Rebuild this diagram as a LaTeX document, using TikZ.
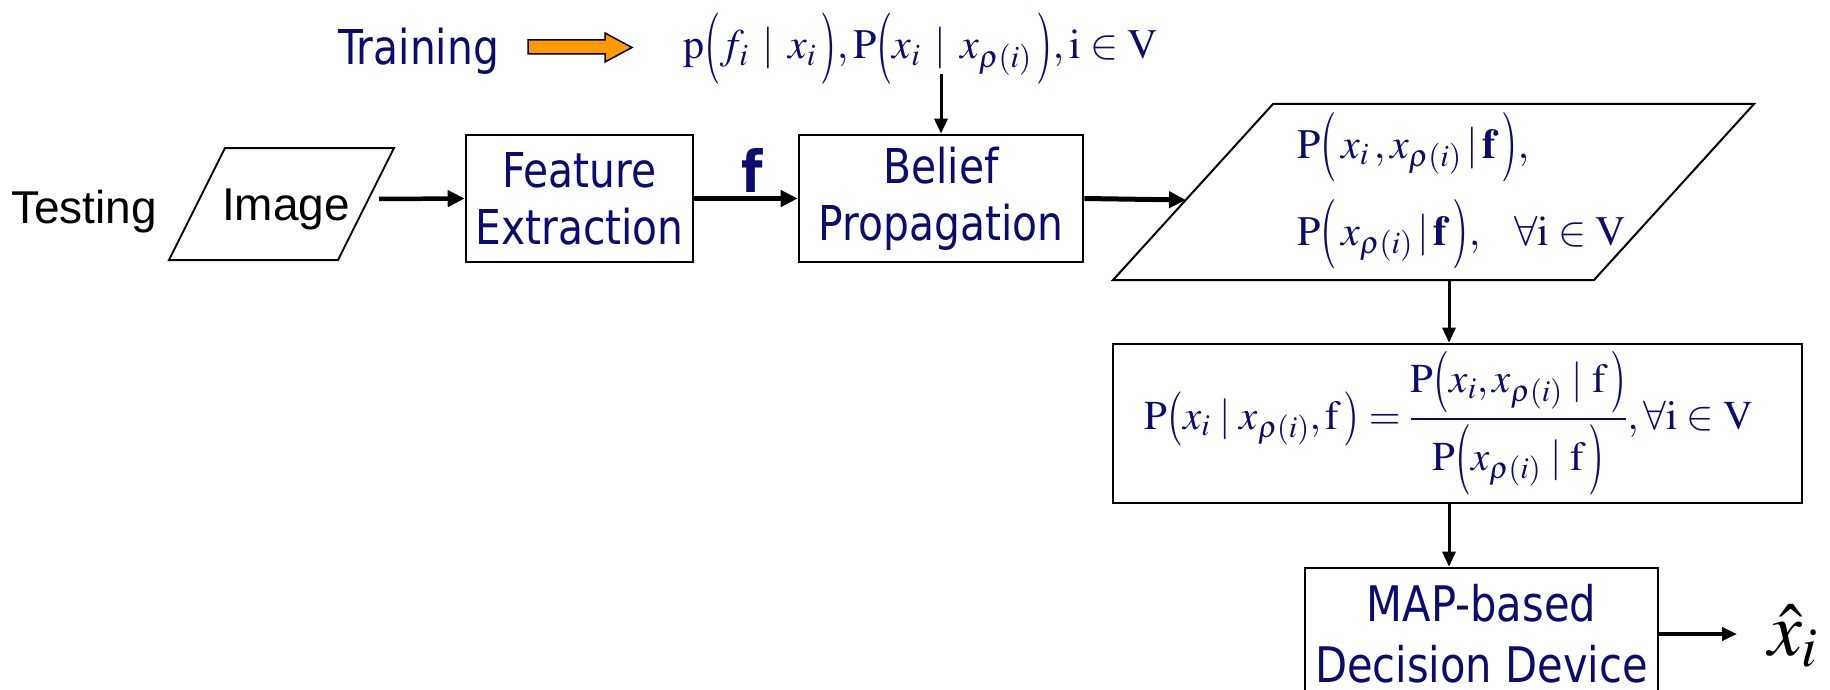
\documentclass[tikz,border=0pt]{standalone}
\usepackage{graphicx}
\usepackage{mathptmx}
\usepackage[no-math]{fontspec}
\setmainfont{Liberation Serif}
\newfontfamily\tah[FakeStretch=0.85]{DejaVu Sans}
\newfontfamily\ari{Liberation Sans}
\usetikzlibrary{arrows.meta}
\definecolor{inkblue}{HTML}{0B0B70}
\definecolor{trainorange}{HTML}{FF9A00}

% tall, thin parentheses: the text-size paren stretched vertically about the math axis
\newcommand{\tallL}[1]{\mathopen{\vcenter{\hbox{\scalebox{1}[#1]{$($}}}}}
\newcommand{\tallR}[1]{\mathclose{\vcenter{\hbox{\scalebox{1}[#1]{$)$}}}}}

\tikzset{
  txt/.style={inner sep=0pt, outer sep=0pt},
  tahtext/.style={txt, text=inkblue, font=\tah\fontsize{48}{57}\selectfont, align=center},
  mathtext/.style={txt, text=inkblue},
  blockbox/.style={draw, line width=2.6pt, inner sep=0pt, text=inkblue,
    font=\tah\fontsize{48}{57}\selectfont, align=center},
  ioshape/.style={draw, line width=2pt, line join=miter},
  flow/.style={line width=4.5pt, -{Triangle[length=17pt,width=16pt]}},
  feed/.style={line width=3pt, -{Triangle[length=15pt,width=13pt]}},
}

\begin{document}
\begin{tikzpicture}[x=1pt, y=-1pt]
\useasboundingbox (0,0) rectangle (1830,690);

% ---- training branch
\node[tahtext, anchor=base west] (train) at (338,65) {Training};
\draw[line width=1.5pt, fill=trainorange, line join=miter]
  (528,40) -- (605,40) -- (605,33) -- (632,47.5) -- (605,62) -- (605,54) -- (528,54) -- cycle;
\node[mathtext, anchor=base west, font=\fontsize{42}{50}\selectfont] (model) at (683,59)
  {$\mathrm{p}\tallL{1.7}f_i\,\mid\,x_i\,\tallR{1.7}, \mathrm{P}\tallL{1.7}x_i\,\mid\,x_{\rho(i)}\,\tallR{1.7}, \mathrm{i}\in\mathrm{V}$};
\coordinate (modelout) at (941,74);

% ---- testing branch
\node[txt, anchor=base west, font=\ari\fontsize{46}{55}\selectfont] (testing) at (11,223) {Testing};
\draw[ioshape] (169,260) -- (225,148) -- (394,148) -- (338,260) -- cycle;
\node[txt, anchor=base west, font=\ari\fontsize{46}{55}\selectfont] (image) at (222,220) {Image};
\coordinate (imgout) at (379,199);

\node[blockbox, minimum width=227pt, minimum height=127pt] (feat) at (579.5,198.5)
  {Feature\\Extraction};
\node[blockbox, minimum width=284pt, minimum height=127pt] (bp) at (941,198.5)
  {Belief\\Propagation};
\node[txt, text=inkblue, font=\tah\bfseries\fontsize{58}{60}\selectfont, anchor=base] (flabel) at (752,192) {f};

% ---- marginals
\draw[ioshape] (1113,280) -- (1273,104) -- (1754,104) -- (1594,280) -- cycle;
\coordinate (margin) at (1186,200);
\coordinate (margout) at (1449,280);
\node[mathtext, anchor=base west, font=\fontsize{42}{50}\selectfont] (marg1) at (1297,158)
  {$\mathrm{P}\tallL{1.65}\,x_i\,, x_{\rho(i)} \,|\, \mathbf{f}\,\tallR{1.65},$};
\node[mathtext, anchor=base west, font=\fontsize{42}{50}\selectfont] (marg2) at (1297,245)
  {$\mathrm{P}\tallL{1.65}\,x_{\rho(i)} \,|\, \mathbf{f}\,\tallR{1.65},\ \;\;\forall\mathrm{i}\in\mathrm{V}$};

% ---- conditional probabilities
\node[blockbox, minimum width=689pt, minimum height=159pt, font=\fontsize{41}{49}\selectfont] (cond) at (1457.5,423.5)
  {$\displaystyle\mathrm{P}\tallL{1.32}x_i \mid x_{\rho(i)}, \mathrm{f}\,\tallR{1.32} = \frac{\mathrm{P}\tallL{1.5}x_i, x_{\rho(i)} \mid \mathrm{f}\,\tallR{1.5}}{\mathrm{P}\tallL{1.72}x_{\rho(i)} \mid \mathrm{f}\,\tallR{1.72}}, \forall\mathrm{i}\in\mathrm{V}$\hspace*{18pt}};
\coordinate (condout) at (1449,503);

% ---- decision
\node[blockbox, minimum width=353pt, minimum height=132pt, font=\tah\fontsize{49}{61}\selectfont] (map) at (1481.5,634)
  {MAP-based\\Decision Device};
\node[txt, anchor=base west, font=\fontsize{76}{84}\selectfont] (xhat) at (1768,655) {$\hat{x}_i$};

% ---- connectors
\draw[flow] (imgout) -- (feat.west);
\draw[flow] (feat.east) -- (bp.west);
\draw[flow, line width=5pt] (bp.east) -- (margin);
\draw[feed] (modelout) -- (bp.north);
\draw[feed] (margout) -- (margout |- cond.north);
\draw[feed] (condout) -- (condout |- map.north);
\draw[feed, line width=4pt, shorten >=31pt] (map.east) -- (map.east -| xhat.west);
\end{tikzpicture}
\end{document}
